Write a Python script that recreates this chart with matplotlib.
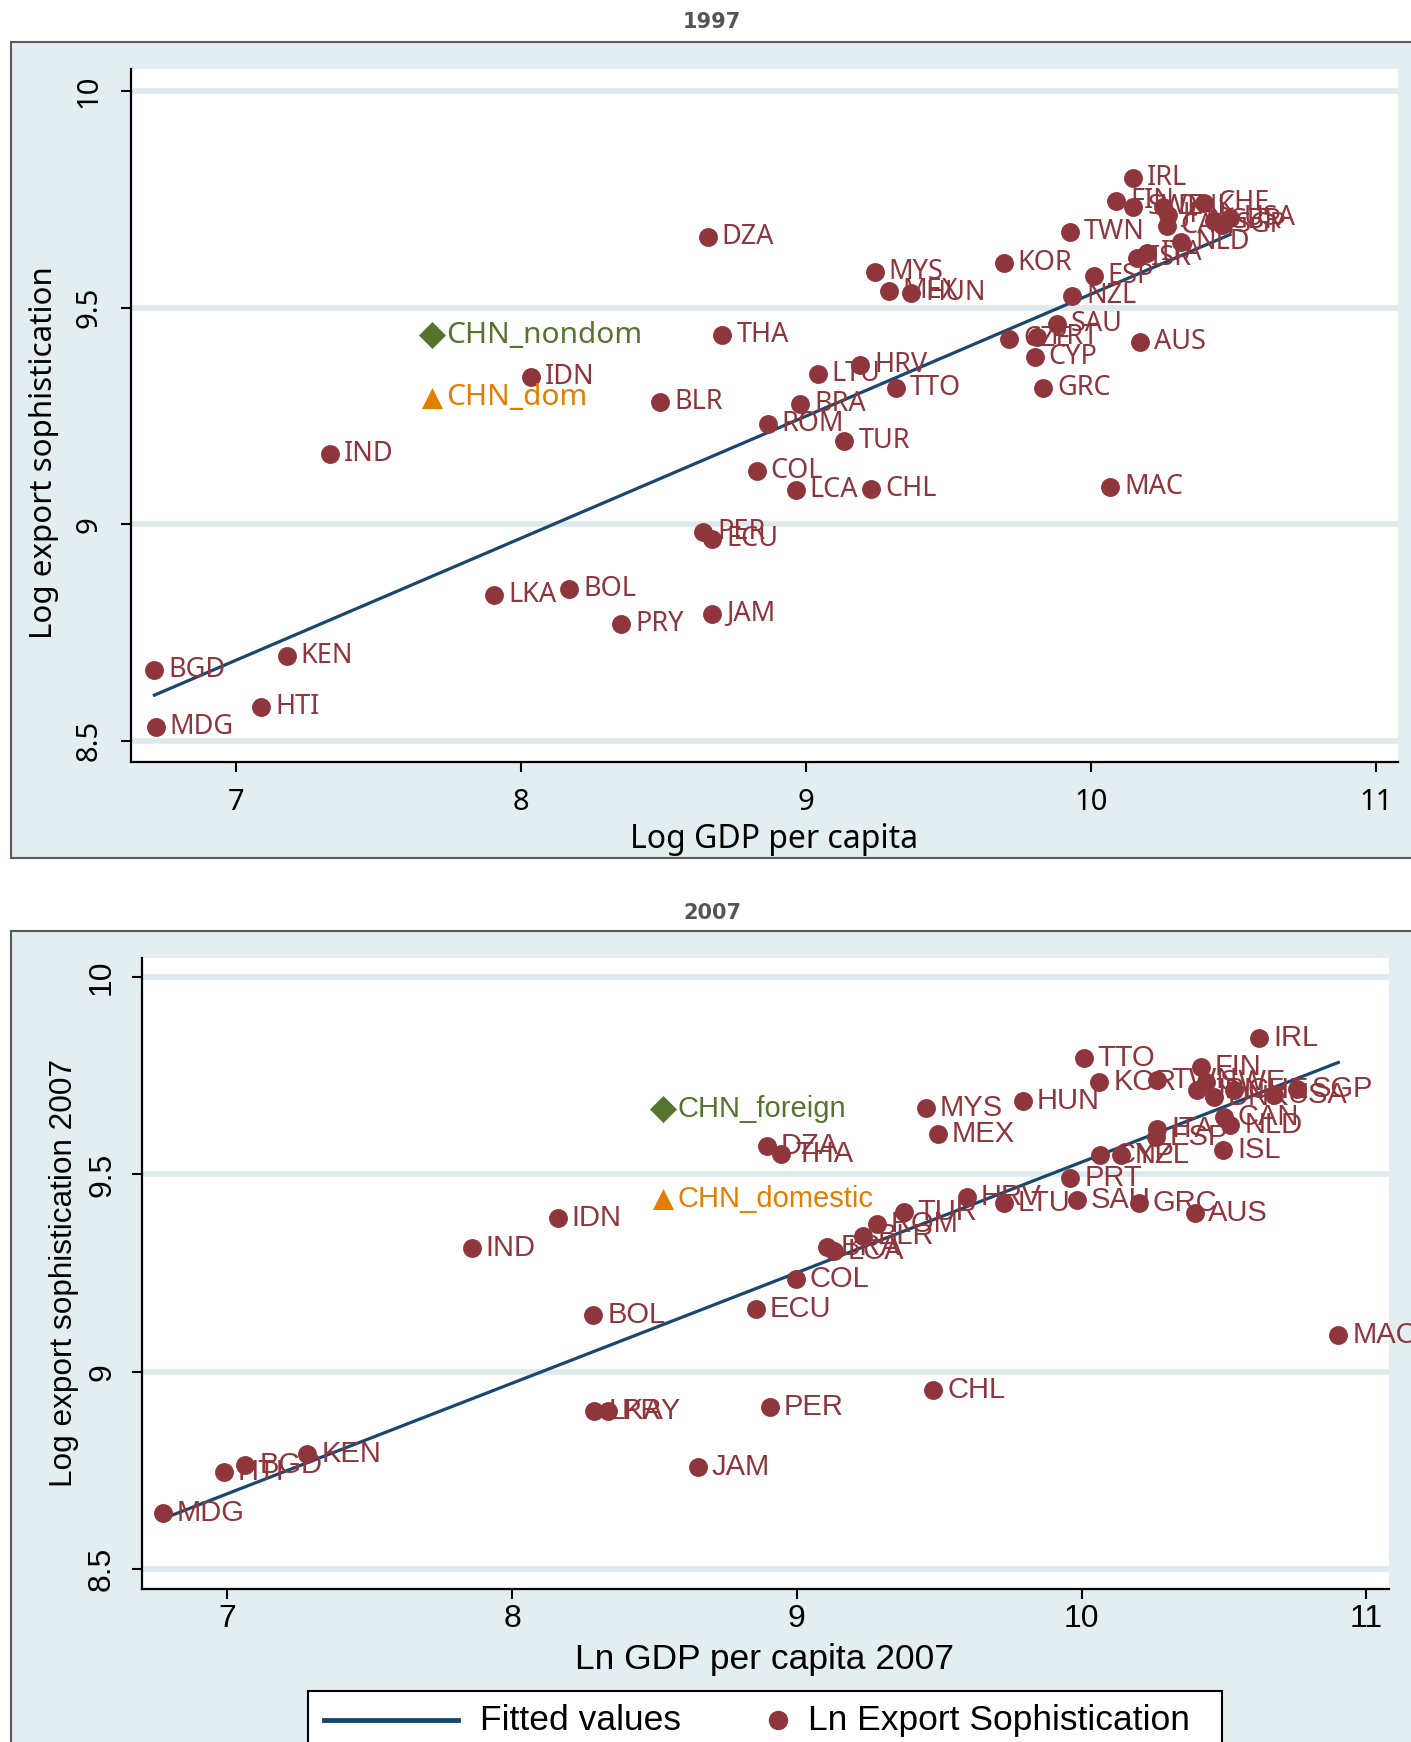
import numpy as np
import matplotlib.pyplot as plt
from matplotlib.patches import Rectangle
from matplotlib.lines import Line2D

# ---- 1997 panel data ----
codes_97 = ["IRL", "FIN", "SWE", "DNK", "JPN", "CHE", "CAN", "GBR", "USA", "SGP",
            "NLD", "ISR", "ITA", "ESP", "NZL", "TWN", "KOR", "SAU", "CZE", "PRT",
            "CYP", "GRC", "AUS", "MAC", "DZA", "MYS", "MEX", "HUN", "THA", "IDN",
            "BLR", "LTU", "HRV", "BRA", "TTO", "ROM", "TUR", "COL", "LCA", "CHL",
            "IND", "PER", "ECU", "LKA", "BOL", "PRY", "JAM", "BGD", "KEN", "HTI", "MDG"]
gdp_97 = [10.148, 10.090, 10.150, 10.255, 10.271, 10.396, 10.267, 10.431, 10.489, 10.460,
          10.318, 10.162, 10.197, 10.010, 9.936, 9.928, 9.694, 9.881, 9.715, 9.811,
          9.803, 9.834, 10.173, 10.068, 8.657, 9.242, 9.292, 9.370, 8.708, 8.037,
          8.489, 9.043, 9.191, 8.981, 9.316, 8.867, 9.136, 8.828, 8.965, 9.230,
          7.331, 8.641, 8.673, 7.908, 8.170, 8.353, 8.673, 6.715, 7.179, 7.090, 6.719]
soph_97 = [9.799, 9.747, 9.732, 9.733, 9.714, 9.741, 9.689, 9.699, 9.708, 9.691,
           9.651, 9.614, 9.626, 9.572, 9.528, 9.674, 9.603, 9.462, 9.427, 9.433,
           9.387, 9.315, 9.421, 9.087, 9.664, 9.582, 9.538, 9.533, 9.436, 9.341,
           9.282, 9.346, 9.367, 9.277, 9.315, 9.231, 9.192, 9.123, 9.079, 9.082,
           9.162, 8.982, 8.967, 8.836, 8.851, 8.769, 8.792, 8.664, 8.695, 8.579, 8.531]
chn_names_97 = ["CHN_nondom", "CHN_dom"]
chn_gdp_97 = [7.690, 7.690]
chn_soph_97 = [9.436, 9.292]
fit_97 = [6.713, 0.2818]   # intercept, slope of the fitted line

# ---- 2007 panel data ----
codes_07 = ["IRL", "TTO", "FIN", "SWE", "JPN", "DNK", "CHE", "USA", "SGP", "KOR",
            "TWN", "CAN", "NLD", "ISL", "ITA", "ESP", "CYP", "NZL", "PRT", "SAU",
            "GRC", "AUS", "LTU", "HRV", "TUR", "ROM", "BLR", "BRA", "LCA", "COL",
            "ECU", "DZA", "THA", "MYS", "MEX", "HUN", "IDN", "IND", "BOL", "LKA",
            "PRY", "PER", "CHL", "JAM", "MAC", "KEN", "BGD", "HTI", "MDG"]
gdp_07 = [10.625, 10.008, 10.418, 10.436, 10.406, 10.465, 10.535, 10.676, 10.758, 10.063,
          10.266, 10.500, 10.523, 10.498, 10.266, 10.260, 10.066, 10.139, 9.961, 9.984,
          10.201, 10.397, 9.727, 9.598, 9.375, 9.281, 9.234, 9.105, 9.129, 8.996,
          8.855, 8.895, 8.945, 9.453, 9.496, 9.793, 8.160, 7.859, 8.285, 8.289,
          8.336, 8.906, 9.480, 8.652, 10.902, 7.281, 7.063, 6.988, 6.773]
soph_07 = [9.845, 9.794, 9.772, 9.734, 9.713, 9.697, 9.713, 9.700, 9.717, 9.735,
           9.739, 9.645, 9.626, 9.561, 9.615, 9.594, 9.548, 9.550, 9.491, 9.434,
           9.427, 9.401, 9.427, 9.442, 9.406, 9.375, 9.345, 9.315, 9.307, 9.234,
           9.158, 9.572, 9.552, 9.668, 9.603, 9.687, 9.389, 9.313, 9.144, 8.901,
           8.901, 8.910, 8.955, 8.758, 9.093, 8.792, 8.763, 8.746, 8.642]
chn_names_07 = ["CHN_foreign", "CHN_domestic"]
chn_gdp_07 = [8.531, 8.531]
chn_soph_07 = [9.665, 9.437]
fit_07 = [6.732, 0.2799]

x_ticks = [7, 8, 9, 10, 11]
y_ticks = [8.5, 9, 9.5, 10]
y_tick_labels = ["8.5", "9", "9.5", "10"]

MAROON = "#8f363d"
NAVY = "#1a476f"
GREEN = "#55752f"
ORANGE = "#e37e00"
BG = "#e3eef0"
GRID = "#dde9ec"

W, H = 1411, 1742
fig = plt.figure(figsize=(W / 100, H / 100), dpi=100)
fig.patch.set_facecolor("white")

# outer grey regions of the two graphs
fig.add_artist(Rectangle((11 / W, 1 - 858 / H), 1.0, (858 - 42) / H, transform=fig.transFigure,
                         facecolor=BG, edgecolor="#5a5a5a", lw=1.5, zorder=0))
fig.add_artist(Rectangle((11 / W, -0.01), 1.0, 1 - 931 / H + 0.01, transform=fig.transFigure,
                         facecolor=BG, edgecolor="#5a5a5a", lw=1.5, zorder=0))

fig.text(712 / W, 1 - 22 / H, "1997", ha="center", va="center", fontsize=15,
         fontweight="bold", color="#555555", family="DejaVu Sans")
fig.text(712 / W, 1 - 913 / H, "2007", ha="center", va="center", fontsize=15,
         fontweight="bold", color="#555555", family="DejaVu Sans")


def draw_panel(ax, codes, gdp, soph, chn_names, chn_gdp, chn_soph, fit, family,
               fs_lab, fs_chn, fs_tick, fs_xt, fs_yt, xlabel, ylabel, xlim, ylim,
               xlab_pos, ylab_pos, xpad, ypad):
    ax.set_facecolor("white")
    ax.set_xlim(*xlim)
    ax.set_ylim(*ylim)

    # fitted values
    xs = np.array([min(gdp), max(gdp)])
    ax.plot(xs, fit[0] + fit[1] * xs, color=NAVY, lw=2.3, zorder=2)

    ax.scatter(gdp, soph, s=185, color=MAROON, zorder=3, linewidths=0)
    for c, x, y in zip(codes, gdp, soph):
        ax.annotate(c, (x, y), xytext=(10, 0), textcoords="offset points",
                    va="center", ha="left", color=MAROON, fontsize=fs_lab,
                    family=family, zorder=4, annotation_clip=False)

    ax.scatter(chn_gdp[0], chn_soph[0], marker="D", s=190, color=GREEN, zorder=3, linewidths=0)
    ax.scatter(chn_gdp[1], chn_soph[1], marker="^", s=230, color=ORANGE, zorder=3, linewidths=0)
    for name, x, y, col in zip(chn_names, chn_gdp, chn_soph, [GREEN, ORANGE]):
        ax.annotate(name, (x, y), xytext=(10, 0), textcoords="offset points",
                    va="center", ha="left", color=col, fontsize=fs_chn,
                    family=family, zorder=4)

    ax.set_xticks(x_ticks)
    ax.set_yticks(y_ticks)
    ax.set_yticklabels(y_tick_labels, rotation=90, va="center")
    ax.yaxis.grid(True, color=GRID, lw=4)
    ax.set_axisbelow(True)
    for s in ["top", "right"]:
        ax.spines[s].set_visible(False)
    for s in ["left", "bottom"]:
        ax.spines[s].set_linewidth(1.6)
        ax.spines[s].set_color("black")
    ax.tick_params(axis="both", direction="out", length=7, width=1.5, labelsize=fs_tick)
    ax.tick_params(axis="x", pad=xpad)
    ax.tick_params(axis="y", pad=ypad)
    for lab in ax.get_xticklabels() + ax.get_yticklabels():
        lab.set_family(family)

    ax.set_xlabel(xlabel, fontsize=fs_xt, family=family)
    ax.set_ylabel(ylabel, fontsize=fs_yt, family=family)
    ax.xaxis.set_label_coords(*xlab_pos)
    ax.yaxis.set_label_coords(*ylab_pos)


ax1 = fig.add_axes([131 / W, 1 - 762 / H, (1398 - 131) / W, (762 - 69) / H])
draw_panel(ax1, codes_97, gdp_97, soph_97, chn_names_97, chn_gdp_97, chn_soph_97, fit_97,
           "Noto Sans", 19.5, 21.5, 21, 23, 22.5, "Log GDP per capita", "Log export sophistication",
           (6.633, 11.078), (8.451, 10.051), (0.5075, -0.088), (-0.0568, 0.447), 12, 13)

ax2 = fig.add_axes([142 / W, 1 - 1589 / H, (1389 - 142) / W, (1589 - 958) / H])
draw_panel(ax2, codes_07, gdp_07, soph_07, chn_names_07, chn_gdp_07, chn_soph_07, fit_07,
           "Liberation Sans", 21, 21, 23, 25.5, 22.7, "Ln GDP per capita 2007",
           "Log export sophistication 2007",
           (6.70, 11.08), (8.45, 10.048), (0.499, -0.085), (-0.0505, 0.5008), 4, 11)

# legend box at the bottom
fig.add_artist(Rectangle((308 / W, -0.02), (1222 - 308) / W, 1 - 1691 / H + 0.02,
                         transform=fig.transFigure, facecolor="white",
                         edgecolor="black", lw=1.5, zorder=5))
ly = 1 - 1720 / H
fig.add_artist(Line2D([324 / W, 458 / W], [ly, ly], transform=fig.transFigure,
                      color=NAVY, lw=3.5, zorder=6))
fig.text(480 / W, ly, "Fitted values", fontsize=25.5, family="Liberation Sans",
         va="center", ha="left", zorder=6)
fig.add_artist(Line2D([778 / W], [ly], transform=fig.transFigure, marker="o", ms=13,
                      color=MAROON, ls="", zorder=6))
fig.text(808 / W, ly, "Ln Export Sophistication", fontsize=25.5, family="Liberation Sans",
         va="center", ha="left", zorder=6)

fig.savefig("out.png", dpi=100)
